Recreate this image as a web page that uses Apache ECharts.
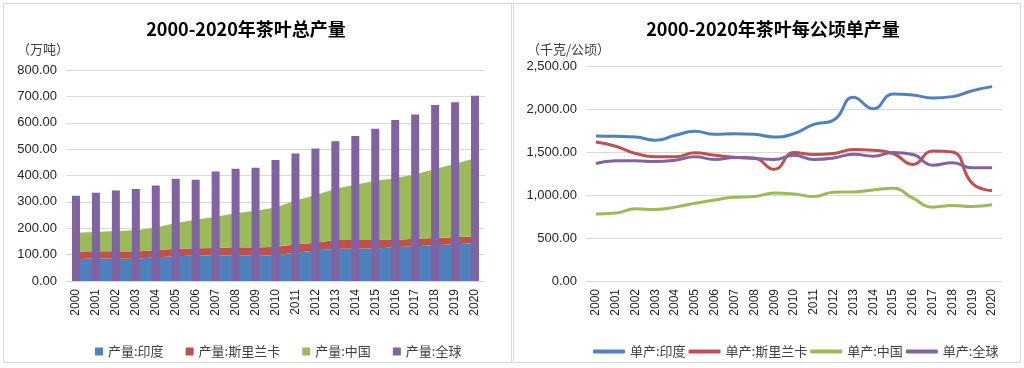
<!DOCTYPE html>
<html><head><meta charset="utf-8">
<script src="https://cdn.jsdelivr.net/npm/echarts@6/dist/echarts.min.js"></script>
<style>
html,body{margin:0;padding:0;background:#fff;width:1024px;height:368px;overflow:hidden;}
.p{position:absolute;top:3px;height:360px;box-sizing:border-box;border:1px solid #d9d9d9;background:#fff;}
#c1{left:3px;width:509px;}
#c2{left:513px;width:508px;}
</style></head>
<body>
<div id="c1" class="p"></div>
<div id="c2" class="p"></div>
<script>
const years = ['2000','2001','2002','2003','2004','2005','2006','2007','2008','2009','2010','2011','2012','2013','2014','2015','2016','2017','2018','2019','2020'];
// 产量 (万吨)
const prodIndia = [82,86,84,84,90,94,97,97,98,98,98,107,116,122,122,123,128,132,136,139,143];
const prodSriLanka = [30,27,29,28,27,28,27,28,30,29,32,31,29,33,33,32,28,28,27,27,27];
const prodChina = [71,73,77,80,86,98,108,119,129,139,149,167,180,195,210,225,234,245,262,279,295];
const prodWorld = [323,335,343,349,362,388,384,415,426,429,459,483,502,530,550,577,610,631,667,678,702];
// 单产 (千克/公顷)
const yieldIndia = [1686,1682,1675,1636,1694,1740,1705,1713,1705,1675,1713,1821,1870,2136,2002,2175,2163,2129,2144,2213,2260];
const yieldSriLanka = [1617,1567,1483,1444,1444,1490,1463,1440,1430,1298,1494,1471,1483,1529,1521,1483,1355,1513,1500,1136,1051];
const yieldChina = [778,790,839,832,859,905,943,974,982,1024,1012,982,1032,1036,1059,1078,963,859,878,866,886];
const yieldWorld = [1367,1397,1397,1390,1405,1444,1413,1436,1425,1413,1463,1413,1430,1475,1452,1494,1471,1347,1374,1316,1316];

const C = {blue:'#4F81BD', red:'#C0504D', green:'#9BBB59', purple:'#8064A2'};
const numFont = '"Liberation Sans", Arial, sans-serif';
const cjk = '"Noto Sans CJK SC", "Noto Sans", sans-serif';
const fmt = v => v.toLocaleString('en-US',{minimumFractionDigits:2,maximumFractionDigits:2});

function xAxisCfg(){
  return {type:'category', data:years, boundaryGap:true,
    axisLine:{lineStyle:{color:'#d9d9d9',width:1}}, axisTick:{show:false},
    axisLabel:{rotate:90, color:'#262626', fontFamily:numFont, fontSize:12, margin:8, interval:0}};
}
function yAxisCfg(max, interval){
  return {type:'value', min:0, max:max, interval:interval,
    axisLine:{show:false}, axisTick:{show:false},
    splitLine:{lineStyle:{color:'#d9d9d9',width:1}},
    axisLabel:{color:'#262626', fontFamily:numFont, fontSize:13, margin:9, formatter:fmt}};
}

const ch1 = echarts.init(document.getElementById('c1'), null, {renderer:'canvas'});
function areaS(name, data, color){
  return {name, type:'line', stack:'p', data, symbol:'none', z:1,
    lineStyle:{width:0}, itemStyle:{color}, areaStyle:{color, opacity:1}};
}
ch1.setOption({
  animation:false,
  title:[
    {text:'2000-2020年茶叶总产量', left:237, top:11, textAlign:'center',
     textStyle:{fontFamily:cjk, fontSize:18, fontWeight:'bold', color:'#000'}},
    {text:'（万吨）', left:8, top:34, textStyle:{fontFamily:cjk, fontSize:13, fontWeight:'normal', color:'#404040'}}
  ],
  legend:{left:86, top:336, itemWidth:8, itemHeight:8, itemGap:22, icon:'rect',
    textStyle:{fontFamily:cjk, fontSize:13, color:'#404040'},
    data:['产量:印度','产量:斯里兰卡','产量:中国','产量:全球']},
  grid:{left:62, right:26, top:66, bottom:81},
  xAxis:xAxisCfg(),
  yAxis:yAxisCfg(800,100),
  series:[
    areaS('产量:印度', prodIndia, C.blue),
    areaS('产量:斯里兰卡', prodSriLanka, C.red),
    areaS('产量:中国', prodChina, C.green),
    {name:'产量:全球', type:'bar', data:prodWorld, barWidth:8, z:3, itemStyle:{color:C.purple}}
  ]
});

const ch2 = echarts.init(document.getElementById('c2'), null, {renderer:'canvas'});
function lineS(name, data, color){
  return {name, type:'line', data, smooth:true, symbol:'none', showSymbol:false,
    lineStyle:{width:3, color}, itemStyle:{color}};
}
ch2.setOption({
  animation:false,
  title:[
    {text:'2000-2020年茶叶每公顷单产量', left:254, top:11, textAlign:'center',
     textStyle:{fontFamily:cjk, fontSize:18, fontWeight:'bold', color:'#000'}},
    {text:'（千克/公顷）', left:8, top:34, textStyle:{fontFamily:cjk, fontSize:13, fontWeight:'normal', color:'#404040'}}
  ],
  legend:{left:74, top:336, itemWidth:32, itemHeight:4, itemGap:3, icon:'roundRect',
    textStyle:{fontFamily:cjk, fontSize:13, color:'#404040'},
    data:['单产:印度','单产:斯里兰卡','单产:中国','单产:全球']},
  grid:{left:72, right:18, top:62, bottom:81},
  xAxis:xAxisCfg(),
  yAxis:yAxisCfg(2500,500),
  series:[
    lineS('单产:印度', yieldIndia, C.blue),
    lineS('单产:斯里兰卡', yieldSriLanka, C.red),
    lineS('单产:中国', yieldChina, C.green),
    lineS('单产:全球', yieldWorld, C.purple)
  ]
});
</script>
</body></html>
